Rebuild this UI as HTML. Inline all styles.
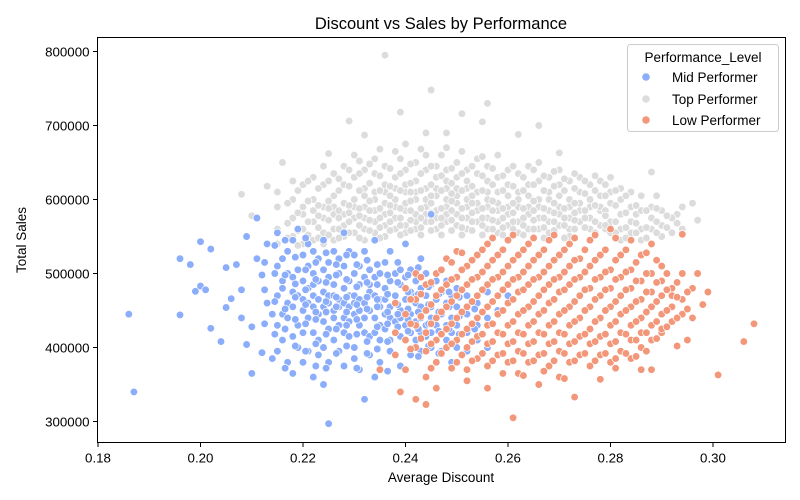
<!DOCTYPE html>
<html><head><meta charset="utf-8"><style>
body{margin:0;background:#fff}
svg{display:block;font-family:"Liberation Sans","DejaVu Sans",sans-serif}
</style></head><body>
<svg id="chart" width="800" height="500" viewBox="0 0 800 500">
<rect width="800" height="500" fill="#fff"/>
<text x="441" y="29" font-size="16.5" text-anchor="middle" fill="#000">Discount vs Sales by Performance</text>
<g id="plot"></g>
<rect x="97.5" y="37.5" width="688" height="405" fill="none" stroke="#000" stroke-width="1"/>
<text x="441" y="482" font-size="13.5" text-anchor="middle">Average Discount</text>
<text x="26" y="240" font-size="13.5" text-anchor="middle" transform="rotate(-90 26 240)">Total Sales</text>
<g>
<rect x="627.5" y="44.5" width="151" height="87" rx="3" fill="#fff" fill-opacity="0.8" stroke="#ccc"/>
<text x="703" y="62" font-size="13.5" text-anchor="middle">Performance_Level</text>
<g><circle cx="646" cy="77" r="3.8" fill="#8badfa"/><text x="672" y="82" font-size="13.5">Mid Performer</text></g>
<g><circle cx="646" cy="99" r="3.8" fill="#dcdcdc"/><text x="672" y="104" font-size="13.5">Top Performer</text></g>
<g><circle cx="646" cy="120" r="3.8" fill="#f3977a"/><text x="672" y="125" font-size="13.5">Low Performer</text></g>
</g>
</svg>
<script>
const xTicks=[0.18,0.20,0.22,0.24,0.26,0.28,0.30];
const yTicks=[300000,400000,500000,600000,700000,800000];
// data: [discount, [sales in thousands]]
const midData=[[0.186,[445]],[0.187,[340]],[0.196,[520,444]],[0.198,[512]],[0.199,[476]],[0.200,[543,483]],[0.201,[478]],[0.202,[533,426]],[0.204,[408]],[0.205,[454,508]],[0.206,[466]],[0.207,[512]],[0.208,[478,440]],[0.209,[550,404]],[0.210,[365,428]],[0.211,[520,575]],[0.212,[393,498]],[0.213,[460,540]],[0.214,[385,445]],
[0.215,[470,510,430,555,395]],[0.216,[490,445,520,410,480]],[0.217,[460,530,380,500,440]],[0.218,[475,415,545,495,455,365]],[0.219,[505,430,470,560,400]],[0.220,[450,490,525,420,465,380]],[0.221,[480,440,510,395,540,460]],[0.222,[470,420,500,455,530,360,485]],[0.223,[445,490,410,520,465,390]],[0.224,[475,435,505,455,545,400,350]],[0.225,[460,495,425,515,380,470,297]],[0.226,[450,485,410,530,440,470]],[0.227,[465,500,430,395,520,455]],[0.228,[480,440,510,420,460,375,555]],[0.229,[455,490,415,530,470,435]],[0.230,[470,445,500,400,525,460,385]],[0.231,[485,430,510,450,465,370]],[0.232,[460,495,420,440,530,330]],[0.233,[475,450,505,415,390,485]],[0.234,[440,470,495,420,545,360]],[0.235,[465,430,500,455,410,380]],[0.236,[480,445,515,425,465]],[0.237,[455,490,410,440,530,395]],[0.238,[470,435,500,420,460]],[0.239,[450,485,415,440,505,375]],[0.240,[465,430,495,410,480,540]],[0.241,[445,475,420,505,390]],[0.242,[460,435,490,410,470]],[0.243,[440,480,420,455,395,520]],[0.244,[470,430,500,415,450]],[0.245,[455,420,485,440,400,580]],[0.246,[465,430,490,410]],[0.247,[445,475,420,395]],[0.248,[460,430,490,410]],[0.249,[440,470,420,380]],[0.250,[455,430,480,400]],[0.252,[445,470,420,395]],[0.254,[460,430,410]],[0.256,[440,475,400]],[0.258,[450,420]],[0.260,[470]]];
const midData2=[[0.2125,[478,515,432]],[0.2145,[462,500,418,538]],[0.2165,[452,498,425,545,372]],[0.2185,[438,486,522,402,468]],[0.2205,[458,505,432,548,395,478]],[0.2225,[448,492,515,405,438,375]],[0.2245,[462,488,418,528,448,372]],[0.2265,[455,498,425,468,512,392]],[0.2285,[448,492,430,468,525,402]],[0.2305,[458,482,418,512,438,372]],[0.2325,[468,452,488,408,518,392]],[0.2345,[455,485,428,465,512,398]],[0.2365,[448,472,432,498,408,368]],[0.2385,[458,488,428,515,445]],[0.2405,[452,475,422,498,438]],[0.2425,[448,472,425,508,388]],[0.2445,[458,482,432,402]],[0.2465,[448,472,422,392]],[0.2485,[455,425,475]],[0.2505,[442,468,418]],[0.2535,[452,425]]];
const topData=[[0.236,[795]],[0.245,[748]],[0.239,[718]],[0.256,[730]],[0.229,[706]],[0.251,[716]],[0.266,[700]],[0.244,[690]],[0.216,[650]],[0.213,[618]],[0.208,[607]],[0.210,[578]],[0.296,[595]],[0.288,[637]],[0.289,[605]],[0.293,[580]],[0.285,[580]],[0.279,[560]],[0.225,[662]],[0.232,[687]],[0.262,[688]],[0.255,[705]],[0.248,[690]],[0.270,[663]],
[0.215,[560,590,540,610]],[0.218,[575,550,600,625]],[0.220,[560,590,540,620,580]],[0.222,[570,600,545,630,585]],[0.224,[555,590,620,575,540,645]],[0.226,[580,605,560,635,590,545]],[0.228,[565,595,620,550,645,580]],[0.230,[575,600,555,630,590,660]],[0.232,[560,590,615,545,640,575,605]],[0.234,[585,610,555,635,570,600,655]],[0.236,[565,595,620,550,645,580,610]],[0.238,[575,600,560,630,590,615,665]],[0.240,[585,610,565,640,595,555,620,675]],[0.242,[570,600,625,580,650,560,610]],[0.244,[590,615,570,640,600,580,660]],[0.246,[575,605,630,585,560,645,615]],[0.248,[590,615,570,640,600,580,625,670]],[0.250,[580,605,630,565,650,595,615]],[0.252,[590,615,575,640,600,560,625]],[0.254,[585,610,570,635,595,655]],[0.256,[575,600,625,560,645,590,610]],[0.258,[585,610,570,630,595,555,660]],[0.260,[580,605,620,565,640,590]],[0.262,[590,610,570,635,555,600]],[0.264,[580,605,620,560,645,590]],[0.266,[575,600,625,560,590,650]],[0.268,[585,610,570,630,555,600]],[0.270,[580,605,620,565,640,590]],[0.272,[575,600,560,625,590,550]],[0.274,[585,610,570,630,595]],[0.276,[575,600,560,620,590,545]],[0.278,[585,605,565,625,590]],[0.280,[570,595,555,610,630]],[0.282,[580,600,560,615,545]],[0.284,[570,590,555,610]],[0.286,[560,585,545,605]],[0.288,[575,560,590]],[0.290,[565,585,550]],[0.292,[575,555]],[0.294,[560,590]],[0.297,[572]]];
const topData2=[[0.217,[568,595,548]],[0.219,[582,558,612,538]],[0.221,[570,598,552,625]],[0.223,[562,592,615,578,548]],[0.225,[572,598,625,552,588]],[0.227,[560,585,612,575,628,548]],[0.229,[570,592,618,555,640,582]],[0.231,[565,588,612,578,635,548,652]],[0.233,[572,598,622,558,648,585]],[0.235,[562,588,612,575,632,548,668]],[0.237,[570,592,618,558,642,582,605]],[0.239,[565,588,612,575,635,552,655]],[0.241,[572,598,622,558,648,585,610]],[0.243,[562,588,612,575,635,552,668]],[0.245,[570,595,620,558,645,582,605]],[0.247,[565,588,612,575,632,552,660]],[0.249,[572,598,622,558,642,585,608]],[0.251,[562,588,612,575,635,552,665]],[0.253,[570,595,618,558,645,582,605]],[0.255,[565,588,612,575,632,552,658]],[0.257,[572,598,620,560,642,585]],[0.259,[562,588,612,575,632,552]],[0.261,[570,595,618,560,645,582]],[0.263,[565,588,612,575,630,552]],[0.265,[572,598,620,560,640,585]],[0.267,[562,588,612,575,632,548]],[0.269,[570,595,618,558,638,582]],[0.271,[565,588,612,575,628,548]],[0.273,[572,595,615,560,635,582]],[0.275,[562,585,608,575,625]],[0.277,[570,592,612,555,632]],[0.279,[565,585,605,578,620]],[0.281,[570,592,555,612]],[0.283,[562,582,605,548]],[0.285,[568,592,555]],[0.287,[562,585,548]],[0.289,[570,555,588]],[0.291,[562,578]],[0.293,[568]]];
const lowData=[[0.261,[305]],[0.244,[323]],[0.242,[330]],[0.273,[333]],[0.239,[340]],[0.246,[345]],[0.301,[363]],[0.306,[408]],[0.308,[432]],[0.294,[553]],[0.297,[500]],[0.299,[475]],[0.298,[458]],[0.288,[370]],[0.286,[370]],[0.278,[357]],[0.281,[372]],[0.295,[410]],[0.293,[402]],[0.290,[420]],[0.252,[355]],[0.256,[345]],[0.266,[350]],[0.235,[370]],
[0.238,[420,460,390]],[0.240,[445,480,410,370]],[0.242,[430,465,400,500]],[0.244,[450,420,485,395,360]],[0.246,[440,470,410,500,380]],[0.248,[455,425,485,400,520]],[0.250,[440,470,410,495,380,530]],[0.252,[455,425,485,400,510,370]],[0.254,[440,470,415,495,385,525]],[0.256,[455,430,485,405,510,375,540]],[0.258,[445,470,420,495,390,525]],[0.260,[460,430,485,405,510,380,545]],[0.262,[445,475,420,495,395,525,365]],[0.264,[455,430,485,405,510,380,540]],[0.266,[445,470,420,495,390,525]],[0.268,[460,430,485,405,510,375,545]],[0.270,[445,475,420,495,395,525,360]],[0.272,[455,430,485,405,510,380,540]],[0.274,[440,470,415,495,390,520]],[0.276,[455,425,480,405,510,375,545]],[0.278,[440,470,415,495,390,525]],[0.280,[455,430,480,405,505,380,560]],[0.282,[445,470,420,495,395,525]],[0.284,[455,430,480,410,505,385,545]],[0.286,[440,465,420,490,400,525]],[0.288,[455,430,475,410,500,540]],[0.290,[445,470,425,490,510]],[0.292,[455,435,480,470]],[0.294,[445,465,500]],[0.296,[440,480]]];
const lowData2=[[0.241,[432,465,398]],[0.243,[442,472,412,495]],[0.245,[432,458,488,405,372]],[0.247,[448,478,418,505,392]],[0.249,[432,462,492,405,515,372]],[0.251,[448,478,418,505,390,528]],[0.253,[432,462,492,408,518,382]],[0.255,[448,478,418,502,392,532]],[0.257,[432,462,492,408,518,382,548]],[0.259,[450,478,418,502,392,532,365]],[0.261,[435,465,492,408,518,382,552]],[0.263,[450,478,418,502,392,532,362]],[0.265,[435,462,492,408,518,382,548]],[0.267,[450,478,418,502,392,532,368]],[0.269,[435,465,492,408,518,382,552]],[0.271,[450,478,418,502,392,532,358]],[0.273,[435,462,492,408,518,382,548]],[0.275,[450,478,418,502,392,532]],[0.277,[435,465,492,408,518,382,552]],[0.279,[450,478,418,502,392,532]],[0.281,[435,462,492,408,518,385,548]],[0.283,[450,478,418,502,392,532]],[0.285,[435,462,490,410,515,388]],[0.287,[448,475,420,500,395,528]],[0.289,[435,462,488,412,518]],[0.291,[450,478,428,500]],[0.293,[440,468,488]],[0.295,[452,475]]];
const seriesNames=['top','top','mid','mid','low','low'];
const seriesColors=['#dcdcdc','#dcdcdc','#8badfa','#8badfa','#f3977a','#f3977a'];

const NS='http://www.w3.org/2000/svg';
const X0=97.5,X1=785.5,Y0=442.5,Y1=37.5;
const xMin=0.18-0.5/5125,xMax=xMin+688/5125;
const yMin=271622,yMax=818919;
function sx(v){return X0+(v-xMin)/(xMax-xMin)*(X1-X0);}
function sy(v){return Y0-(v-yMin)/(yMax-yMin)*(Y0-Y1);}
const svg=document.getElementById('chart');
const plot=document.getElementById('plot');
function mk(tag,attrs,parent){const e=document.createElementNS(NS,tag);for(const k in attrs)e.setAttribute(k,attrs[k]);parent.appendChild(e);return e;}
[topData,topData2,midData,midData2,lowData,lowData2].forEach((data,si)=>{
  const g=mk('g',{},plot);
  
  
  data.forEach(col=>{col[1].forEach(y=>{
    const c=mk('circle',{cx:sx(col[0]).toFixed(1),cy:sy(y*1000).toFixed(1),r:3.8,fill:seriesColors[si],stroke:'#fff','stroke-width':0.7},g);
    
    
  });});
});
xTicks.forEach(t=>{
  const x=sx(t);
  const l=mk('line',{x1:x,x2:x,y1:Y0,y2:Y0+4.5,stroke:'#000'},svg);
  
  
  const tx=mk('text',{x:x,y:Y0+20,'font-size':13.3,'text-anchor':'middle'},svg);
  tx.textContent=t.toFixed(2);
  
  
});
yTicks.forEach(t=>{
  const y=sy(t);
  const l=mk('line',{x1:X0-4.5,x2:X0,y1:y,y2:y,stroke:'#000'},svg);
  
  
  const tx=mk('text',{x:X0-8,y:y+4.8,'font-size':13.3,'text-anchor':'end'},svg);
  tx.textContent=String(t);
  
  
});
</script>
</body></html>
